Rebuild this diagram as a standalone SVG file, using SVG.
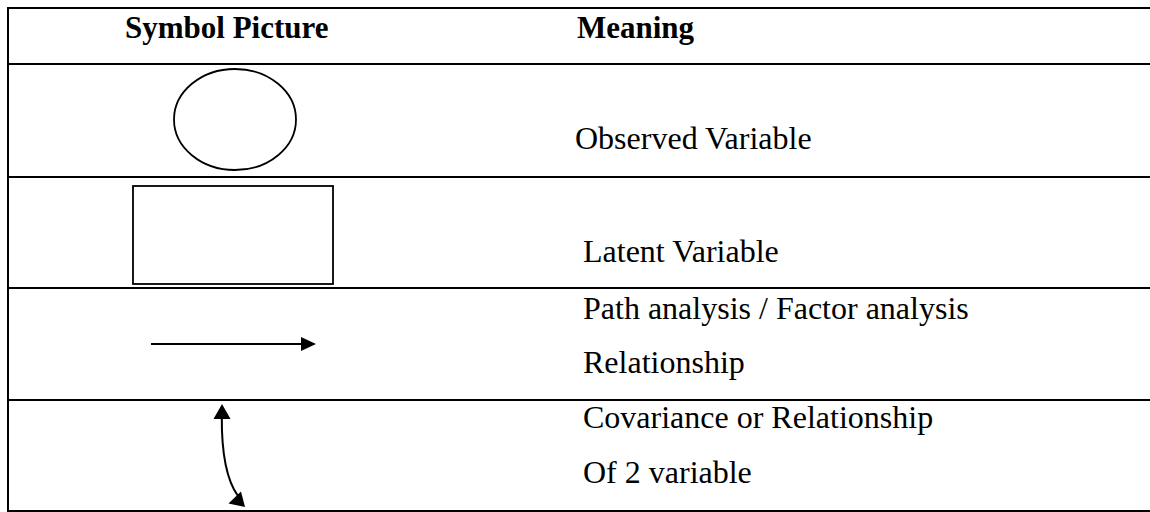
<svg xmlns="http://www.w3.org/2000/svg" width="1150" height="512" viewBox="0 0 1150 512">
  <style>
    .rule { stroke: #000; stroke-width: 2; fill: none; }
    .shape { stroke: #000; stroke-width: 1.8; fill: #fff; }
    .head { fill: #000; stroke: none; }
    .hdr { font-family: "Liberation Serif", "Times New Roman", serif; font-weight: bold; font-size: 31px; fill: #000; }
    .txt { font-family: "Liberation Serif", "Times New Roman", serif; font-size: 32px; fill: #000; }
  </style>
  <rect width="1150" height="512" fill="#fff"/>

  <!-- table rules -->
  <g id="table">
    <line class="rule" x1="7" y1="8" x2="1150" y2="8"/>
    <line class="rule" x1="7" y1="64" x2="1150" y2="64"/>
    <line class="rule" x1="7" y1="177" x2="1150" y2="177"/>
    <line class="rule" x1="7" y1="288" x2="1150" y2="288"/>
    <line class="rule" x1="7" y1="400" x2="1150" y2="400"/>
    <line class="rule" x1="7" y1="511" x2="1150" y2="511"/>
    <line class="rule" x1="8" y1="7" x2="8" y2="512"/>
  </g>

  <!-- header -->
  <g id="header">
    <text class="hdr" x="125" y="37.5">Symbol Picture</text>
    <text class="hdr" x="577" y="37.5">Meaning</text>
  </g>

  <!-- row: observed variable -->
  <g id="observed">
    <ellipse class="shape" cx="235" cy="119.5" rx="61" ry="50.5"/>
    <text class="txt" x="575" y="149">Observed Variable</text>
  </g>

  <!-- row: latent variable -->
  <g id="latent">
    <rect class="shape" x="133" y="186" width="200" height="98" stroke-width="2"/>
    <text class="txt" x="583" y="261.5">Latent Variable</text>
  </g>

  <!-- meaning texts for arrow rows -->
  <g id="path-rel">
    <text class="txt" x="583" y="319">Path analysis / Factor analysis</text>
    <text class="txt" x="583" y="372.5">Relationship</text>
  </g>
  <g id="covariance">
    <text class="txt" x="583" y="428">Covariance or Relationship</text>
    <text class="txt" x="583" y="482.5">Of 2 variable</text>
  </g>

  <!-- connector symbols -->
  <g id="connectors">
    <line class="rule" x1="151" y1="344" x2="303" y2="344"/>
    <polygon class="head" points="301,337 316,344 301,351"/>

    <path class="rule" d="M221.8,416 C221.5,450 225,478 238,496"/>
    <polygon class="head" points="222,404 213.5,419 230.5,419"/>
    <polygon class="head" points="245,507 228.5,503.5 241,491.5"/>
  </g>
</svg>
